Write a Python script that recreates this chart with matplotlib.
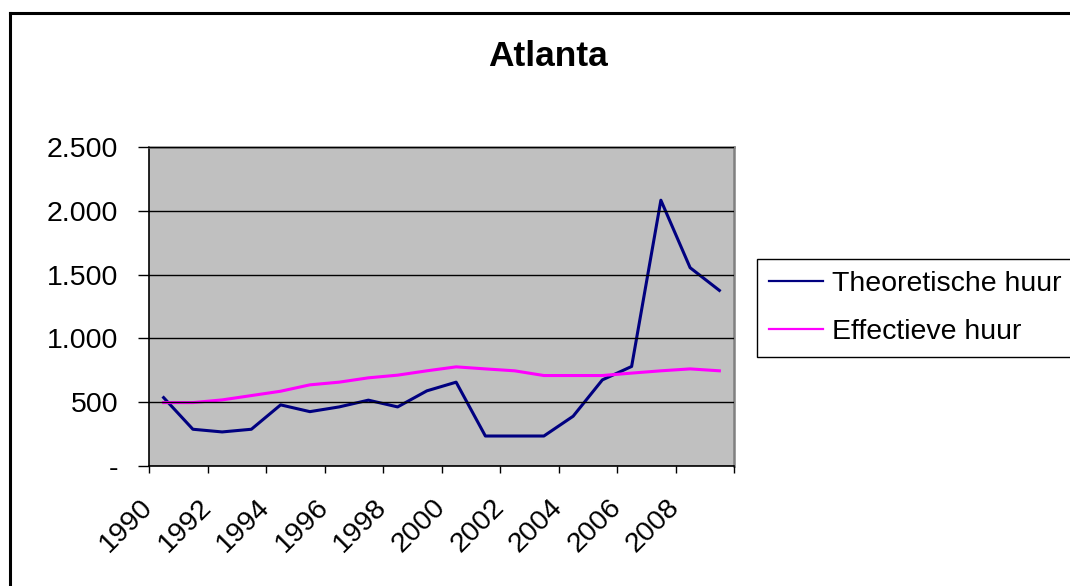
import matplotlib.pyplot as plt
from matplotlib.lines import Line2D
from matplotlib.ticker import FuncFormatter

plt.rcParams['font.family'] = ['Liberation Sans', 'DejaVu Sans']

# huurniveaus Atlanta per jaar
jaren = list(range(1990, 2010))
theoretische_huur = [536, 288, 267, 288, 479, 426, 463, 516, 463, 589,
                     657, 235, 235, 235, 390, 675, 780, 2083, 1554, 1376]
effectieve_huur = [497, 497, 518, 552, 586, 636, 657, 691, 712, 746,
                   777, 761, 746, 709, 709, 709, 728, 746, 761, 746]
y_ticks = [0, 500, 1000, 1500, 2000, 2500]


def duizendtal(v, pos):
    if v == 0:
        return "-"
    return "{:,.0f}".format(v).replace(",", ".")


W, H = 1070, 586
fig = plt.figure(figsize=(W / 100, H / 100), dpi=100)
fig.patch.set_facecolor("white")

ax = fig.add_axes([149 / W, 1 - 466 / H, 585 / W, 319 / H])
ax.set_facecolor("#C0C0C0")

x = [i + 0.5 for i in range(len(jaren))]
ax.plot(x, theoretische_huur, color="#000080", linewidth=2.2, label="Theoretische huur")
ax.plot(x, effectieve_huur, color="#FF00FF", linewidth=2.2, label="Effectieve huur")

ax.set_xlim(0, len(jaren))
ax.set_ylim(0, 2500)

# y-as
ax.set_yticks(y_ticks)
ax.yaxis.set_major_formatter(FuncFormatter(duizendtal))
ax.tick_params(axis="y", direction="out", length=8, width=1, pad=14,
               labelsize=20.5, colors="black")
ax.grid(axis="y", color="black", linewidth=1)
ax.set_axisbelow(False)

# x-as: streepjes om de 2 jaar, labels gedraaid
ax.set_xticks(range(0, len(jaren) + 1, 2))
ax.set_xticklabels([str(j) for j in jaren[::2]] + [""])
ax.tick_params(axis="x", direction="out", length=5, width=1, pad=22,
               labelsize=20.5)
for lbl in ax.get_xticklabels():
    lbl.set_rotation(45)
    lbl.set_ha("right")
    lbl.set_va("center")
    lbl.set_rotation_mode("anchor")

for kant in ["left", "bottom"]:
    ax.spines[kant].set_color("black")
    ax.spines[kant].set_linewidth(1.2)
for kant in ["top", "right"]:
    ax.spines[kant].set_color("#808080")
    ax.spines[kant].set_linewidth(1.8)

fig.text(548 / W, 1 - 56 / H, "Atlanta", ha="center", va="center",
         fontsize=25.5, fontweight="bold")

leg = fig.legend(loc="upper left", bbox_to_anchor=(757 / W, 1 - 259 / H),
                 borderaxespad=0, fontsize=20.5, handlelength=1.9,
                 handletextpad=0.3, labelspacing=0.76, borderpad=0.42,
                 fancybox=False, framealpha=1, edgecolor="black")
leg.get_frame().set_linewidth(1)
for lijn in leg.get_lines():
    lijn.set_linewidth(1.6)

# kader van het grafiekgebied
fig.add_artist(Line2D([10 / W, 10 / W], [0, 1 - 13 / H], transform=fig.transFigure,
                      color="black", linewidth=2.2))
fig.add_artist(Line2D([10 / W, 1], [1 - 13 / H, 1 - 13 / H], transform=fig.transFigure,
                      color="black", linewidth=2.2))

fig.savefig("out.png", dpi=100)
